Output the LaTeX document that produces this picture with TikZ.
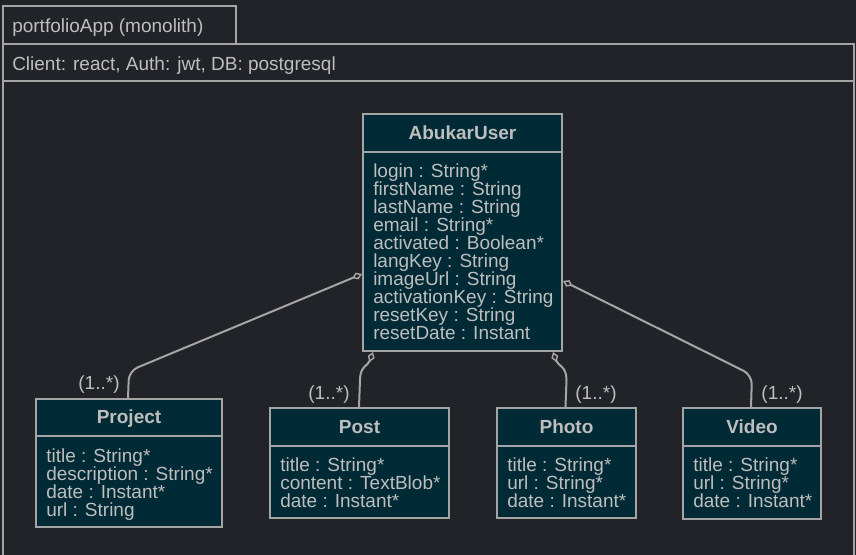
\documentclass[tikz,border=0pt]{standalone}
\usepackage{fontspec}
\setmainfont{Liberation Sans}
\usetikzlibrary{arrows.meta,fit,calc}
\definecolor{bg}{RGB}{33,35,41}
\definecolor{boxfill}{RGB}{0,42,53}
\definecolor{ln}{RGB}{165,165,165}
\definecolor{fg}{RGB}{190,190,190}
\begin{document}
\begin{tikzpicture}[x=0.75pt,y=-0.75pt,
  frame/.style={draw=ln, line width=1.5pt},
  cls/.style={draw=ln, fill=boxfill, line width=1.5pt, inner sep=0pt},
  sepline/.style={draw=ln, line width=1.5pt},
  txt/.style={text=fg, font=\fontsize{14.25}{13.5}\selectfont, inner sep=0pt, anchor=base west},
  ttl/.style={text=fg, font=\fontsize{14.25}{13.5}\selectfont\bfseries, inner sep=0pt, anchor=base},
  mult/.style={text=fg, font=\fontsize{14.25}{13.5}\selectfont, inner sep=0pt, anchor=base},
  assoc/.style={draw=ln, line width=1.5pt, {Diamond[open,length=8pt,width=5.5pt,line width=1.1pt]}-}
]
\fill[bg] (0,0) rectangle (856,555);
\useasboundingbox (0,0) rectangle (856,555);

% frame
\draw[frame] (3,44) -- (3,6) -- (236,6) -- (236,44);
\draw[frame] (3,44) rectangle (854,81);
\draw[frame] (3,81) -- (3,558) (854,81) -- (854,558);
\node[txt] (fr1) at (12,33) {portfolioApp (monolith)};
\node[txt] (fr2) at (12,71) {Client: react, Auth: jwt, DB: postgresql};

% AbukarUser
\node[cls, fit={(363,114) (562,351)}] (user) {};
\draw[sepline] (363,152) -- (562,152);
\node[ttl] (userT) at (462.5,140) {AbukarUser};
\foreach \t [count=\i from 0] in {login : String*, firstName : String, lastName : String, email : String*, activated : Boolean*, langKey : String, imageUrl : String, activationKey : String, resetKey : String, resetDate : Instant}
  \node[txt] (ua\i) at (373,178+18*\i) {\t};

% Project
\node[cls, fit={(36,399) (222,527)}] (project) {};
\draw[sepline] (36,436) -- (222,436);
\node[ttl] (projectT) at (129,424) {Project};
\foreach \t [count=\i from 0] in {title : String*, description : String*, date : Instant*, url : String}
  \node[txt] (pa\i) at (46,462+18*\i) {\t};

% Post
\node[cls, fit={(270,408) (449,518)}] (post) {};
\draw[sepline] (270,446) -- (449,446);
\node[ttl] (postT) at (359.5,433) {Post};
\foreach \t [count=\i from 0] in {title : String*, content : TextBlob*, date : Instant*}
  \node[txt] (sa\i) at (280,471+18*\i) {\t};

% Photo
\node[cls, fit={(497,408) (636,518)}] (photo) {};
\draw[sepline] (497,446) -- (636,446);
\node[ttl] (photoT) at (566.5,433) {Photo};
\foreach \t [count=\i from 0] in {title : String*, url : String*, date : Instant*}
  \node[txt] (ha\i) at (507,471+18*\i) {\t};

% Video
\node[cls, fit={(683,408) (821,519)}] (video) {};
\draw[sepline] (683,446) -- (821,446);
\node[ttl] (videoT) at (752,433) {Video};
\foreach \t [count=\i from 0] in {title : String*, url : String*, date : Instant*}
  \node[txt] (va\i) at (693,471+18*\i) {\t};

% connectors
\draw[assoc, rounded corners=7pt] ($(user.north west)+(0,161)$) -- (129,371) -- ($(project.north west)+(93,0)$);
\draw[assoc] ($(user.south west)+(11,0)$) .. controls (368,366) and (360,366) .. (360,380) -- ($(post.north west)+(90,0)$);
\draw[assoc] ($(user.south east)+(-10,0)$) .. controls (558,366) and (566.5,366) .. (566.5,380) -- ($(photo.north west)+(69.5,0)$);
\draw[assoc, rounded corners=7pt] ($(user.north east)+(0,168)$) -- (752,375) -- ($(video.north west)+(69,0)$);

% multiplicities
\node[mult] (m1) at (99,390) {(1..*)};
\node[mult] (m2) at (329,400) {(1..*)};
\node[mult] (m3) at (596,400) {(1..*)};
\node[mult] (m4) at (782,400) {(1..*)};
\end{tikzpicture}
\end{document}
